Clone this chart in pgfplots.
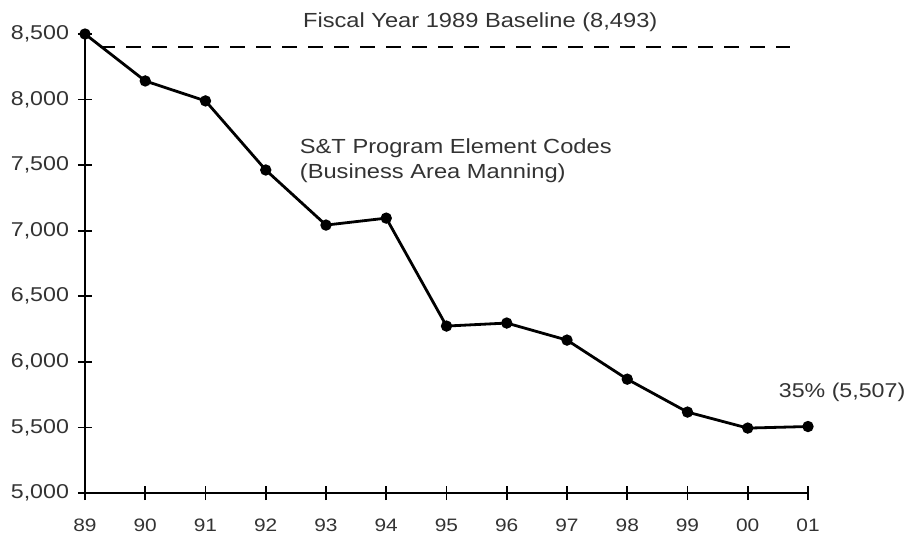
\documentclass[border=0pt]{standalone}
\usepackage{pgfplots}
\pgfplotsset{compat=1.18}
\usepackage{fontspec}
\setmainfont[FakeStretch=1.16]{Liberation Sans}
\definecolor{txt}{HTML}{333333}
\begin{document}
\begin{tikzpicture}
\useasboundingbox (-42.5pt,-22.5pt) rectangle (410.5pt,246.5pt);
\begin{axis}[
  at={(0,0)}, anchor=south west,
  scale only axis, width=361.5pt, height=229.5pt,
  xmin=0, xmax=12, ymin=5000, ymax=8500,
  axis x line=bottom, axis y line=left,
  axis line style={-, line width=1pt},
  xtick={0,...,12},
  xticklabels={89,90,91,92,93,94,95,96,97,98,99,00,01},
  ytick={5000,5500,...,8500},
  tick align=center, major tick length=7pt,
  tick style={black, line width=0.9pt},
  /pgf/number format/assume math mode=true,
  /pgf/number format/1000 sep={,},
  ticklabel style={text=txt},
  xticklabel style={font=\fontsize{9}{10}\selectfont, yshift=-6pt},
  yticklabel style={font=\fontsize{10}{11}\selectfont, xshift=-1pt},
  clip=false,
]
\addplot[black, line width=1.4pt, mark=*, mark size=2.1pt] coordinates {
 (0,8500) (1,8142) (2,7990) (3,7463) (4,7043) (5,7096) (6,6273)
 (7,6296) (8,6166) (9,5868) (10,5617) (11,5495) (12,5507)
};
\addplot[black, line width=1.3pt, dash pattern=on 7.5pt off 5.5pt] coordinates {(0.25,8400) (11.7,8400)};
\node[text=txt, font=\fontsize{10.2}{12}\selectfont] at (axis cs:6.56,8590) {Fiscal Year 1989 Baseline (8,493)};
\node[text=txt, font=\fontsize{10.2}{12.5}\selectfont, align=left, anchor=west] at (axis cs:3.45,7530) {S\&T Program Element Codes\\(Business Area Manning)};
\node[text=txt, font=\fontsize{10}{11}\selectfont, anchor=west] at (axis cs:11.4,5769) {35\% (5,507)};
\end{axis}
\end{tikzpicture}
\end{document}
